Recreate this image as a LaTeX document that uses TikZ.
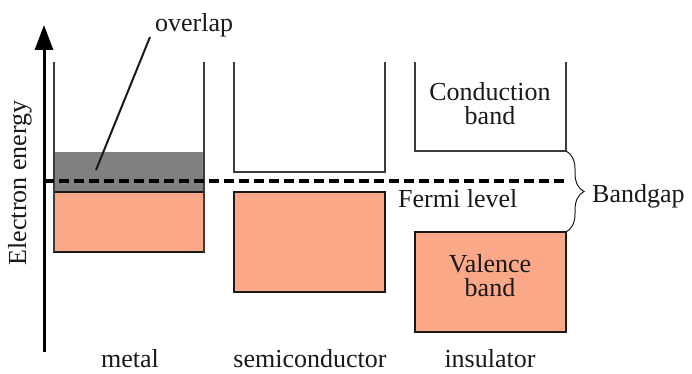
\documentclass[tikz,border=0pt]{standalone}
\usepackage{fontspec}
\setmainfont{Liberation Serif}
\usetikzlibrary{decorations.pathreplacing,arrows.meta}
\definecolor{valencefill}{RGB}{250,168,135}
\definecolor{overlapfill}{RGB}{128,128,128}
\definecolor{ink}{RGB}{25,25,25}
\definecolor{wall}{RGB}{60,60,60}
\begin{document}
\begin{tikzpicture}[x=1pt,y=-1pt,
  lbl/.style={text=ink, font=\fontsize{26}{24}\selectfont, inner sep=0pt},
  bandbox/.style={draw=ink, line width=2pt, fill=valencefill},
  wallline/.style={draw=wall, line width=1.6pt},
  fermi/.style={draw=black, line width=4pt, dash pattern=on 10pt off 5pt},
  axisline/.style={draw=black, line width=3pt, -{Triangle[length=25pt,width=18pt]}},
  gapbrace/.style={draw=ink, line width=1pt, decorate,
    decoration={brace, amplitude=18pt}}]
\useasboundingbox (0,0) rectangle (692,374);

% metal: overlapping bands
\fill[overlapfill] (54,152) rectangle (204,192);
\draw[bandbox] (54,192) rectangle (204,252);
\draw[wallline] (54,62) -- (54,252);
\draw[wallline] (204,62) -- (204,252);

% semiconductor: narrow gap
\draw[bandbox] (234,192) rectangle (385,292);
\draw[wallline, line width=2pt] (234,62) -- (234,172) -- (385,172) -- (385,62);

% insulator: wide gap
\draw[bandbox] (415,232) rectangle (566,332);
\draw[wallline, line width=2pt] (415,62) -- (415,151) -- (566,151) -- (566,62);
\coordinate (cbot) at (566,151);
\coordinate (vtop) at (566,232);

% energy axis
\coordinate (axbot) at (44,352);
\coordinate (axtop) at (44,25);
\draw[axisline] (axbot) -- (axtop);

% Fermi level
\coordinate (fl) at (44,181);
\coordinate (fr) at (568,181);
\draw[fermi] (fl) -- (fr);

% labels
\node[lbl, rotate=90] (energy) at (20,183) {Electron energy};
\node[lbl, anchor=base] (metal) at (130,367) {metal};
\node[lbl, anchor=base] (semi) at (310,367) {semiconductor};
\node[lbl, anchor=base] (ins) at (490,367) {insulator};
\node[lbl, anchor=base west] (ferm) at (398,207) {Fermi level};
\node[lbl, anchor=base west] (gap) at (592,202) {Bandgap};
\node[lbl, anchor=base west] (ovl) at (155,32) {overlap};
\node[lbl, align=center] (cond) at (490,104) {Conduction\\band};
\node[lbl, align=center] (val) at (490,276) {Valence\\band};

% leader to the overlap region
\coordinate (ovltip) at (96,170);
\draw[ink, line width=2pt] (150,37) -- (ovltip);

% bandgap brace
\draw[gapbrace] (cbot) -- (vtop);
\end{tikzpicture}
\end{document}
